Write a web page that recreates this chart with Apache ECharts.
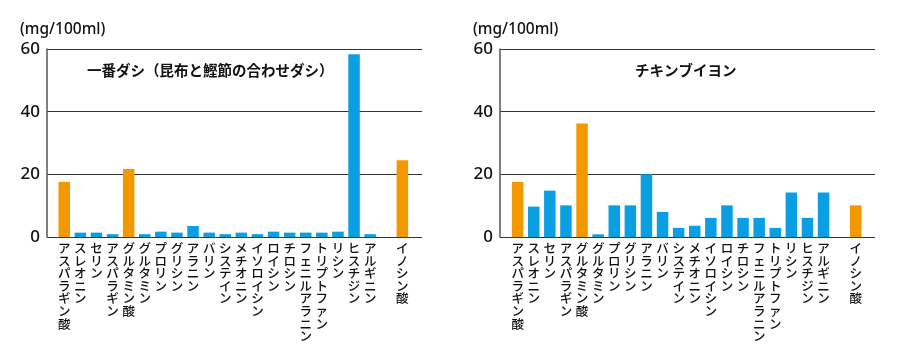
<!DOCTYPE html>
<html><head><meta charset="utf-8">
<script src="https://cdn.jsdelivr.net/npm/echarts@6/dist/echarts.min.js"></script>
<style>html,body{margin:0;padding:0;background:#fff}#c{width:900px;height:360px}</style>
</head><body><div id="c"></div>
<script>
const categories = ['アスパラギン酸','スレオニン','セリン','アスパラギン','グルタミン酸','グルタミン','プロリン','グリシン','アラニン','バリン','システイン','メチオニン','イソロイシン','ロイシン','チロシン','フェニルアラニン','トリプトファン','リシン','ヒスチジン','アルギニン','','イノシン酸'];
const highlight = ['アスパラギン酸','グルタミン酸','イノシン酸'];
const dashiValues = [17.6,1.4,1.4,0.9,21.7,0.9,1.7,1.4,3.5,1.4,0.9,1.4,0.9,1.7,1.4,1.4,1.4,1.7,58.3,0.9,null,24.5];
const chickenValues = [17.6,9.7,14.8,10.1,36.2,0.85,10.1,10.1,20.0,8.0,2.9,3.6,6.1,10.1,6.1,6.1,2.9,14.2,6.1,14.2,null,10.1];
const yTicks = [0,20,40,60];
const titles = ['一番ダシ（昆布と鰹節の合わせダシ）','チキンブイヨン'];
const unitLabel = '(mg/100ml)';

const BLUE = '#0a9ee2', ORANGE = '#f39800';
const font = '"Noto Sans CJK JP", "Noto Sans", sans-serif';
const panels = [{frameL:47, frameR:422, barL:56.2, data:dashiValues},{frameL:500, frameR:875, barL:509.6, data:chickenValues}];
const TOP = 49, H = 188, BARW = 354.2;

const grid=[], xAxis=[], yAxis=[], series=[], graphic=[];
panels.forEach((p,i)=>{
  grid.push({left:p.frameL, top:TOP, width:p.frameR-p.frameL, height:H});
  grid.push({left:p.barL, top:TOP, width:BARW, height:H});
  const gF = i*2, gB = i*2+1;
  xAxis.push({gridIndex:gF, type:'value', show:false, min:0, max:1});
  yAxis.push({gridIndex:gF, type:'value', min:yTicks[0], max:yTicks[yTicks.length-1], interval:20,
    axisLine:{show:true, lineStyle:{color:'#555', width:1.5}}, axisTick:{show:false},
    axisLabel:{color:'#111', fontSize:17, fontWeight:500, fontFamily:'"Noto Sans", sans-serif', margin:7},
    splitLine:{show:true, lineStyle:{color:'#333', width:1}}});
  xAxis.push({gridIndex:gB, type:'category', data:categories,
    axisLine:{show:false}, axisTick:{show:false},
    axisLabel:{interval:0, color:'#111', fontSize:12.5, fontWeight:500, lineHeight:12.6, fontFamily:font, margin:5, verticalAlign:'top',
      formatter:v=>v.split('').join('\n')}});
  yAxis.push({gridIndex:gB, type:'value', min:0, max:60, show:false});
  series.push({type:'bar', xAxisIndex:gB, yAxisIndex:gB, barWidth:11.5,
    data:p.data.map((v,k)=>({value:v, itemStyle:{color: highlight.includes(categories[k])?ORANGE:BLUE}})),
    animation:false});
  series.push({type:'line', xAxisIndex:gF, yAxisIndex:gF, data:[], silent:true});
  graphic.push({type:'text', left:p.frameL-27, top:22, style:{text:unitLabel, font:'500 15.5px "Noto Sans", sans-serif', fill:'#111'}});
});

const chart = echarts.init(document.getElementById('c'));
chart.setOption({
  animation:false,
  title: titles.map((t,i)=>({text:t, left: i===0? 87 : 635, top:63,
    textStyle:{fontSize:14.5, fontWeight:'bold', color:'#111', fontFamily:font}, padding:0})),
  grid, xAxis, yAxis, series, graphic
});
</script></body></html>
